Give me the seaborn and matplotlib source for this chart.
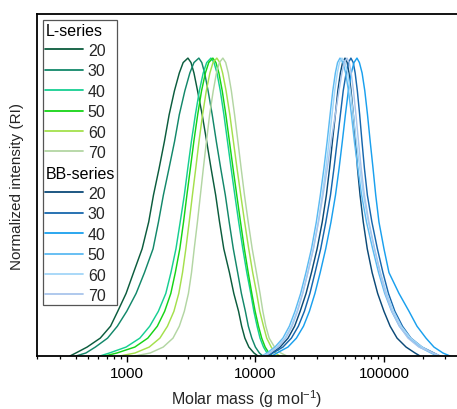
import matplotlib
matplotlib.use("Agg")
import matplotlib.pyplot as plt
import matplotlib.ticker as mticker
from matplotlib.lines import Line2D
from matplotlib.legend_handler import HandlerBase
import matplotlib.text as mtext
import seaborn as sns
import pandas as pd

# ---------------- data ----------------
# normalized intensity levels (left flank, peak, right flank)
I_levels = [0, .01, .03, .06, .10, .15, .21, .28, .36, .45, .54, .63, .72, .81, .89, .95, .985, 1,
            .985, .95, .89, .81, .72, .63, .54, .45, .36, .28, .21, .15, .10, .06, .03, .01, 0]

# log10 of molar mass (g/mol) at each intensity level
L20_logM = [2.557, 2.603, 2.691, 2.793, 2.873, 2.929, 2.994, 3.052, 3.119, 3.170, 3.207, 3.251, 3.292, 3.329, 3.370, 3.408, 3.438, 3.475,
            3.499, 3.522, 3.550, 3.586, 3.621, 3.655, 3.691, 3.721, 3.754, 3.798, 3.832, 3.869, 3.893, 3.918, 3.949, 3.989, 4.020]
L30_logM = [2.603, 2.681, 2.755, 2.850, 2.926, 2.999, 3.072, 3.137, 3.204, 3.246, 3.284, 3.328, 3.371, 3.408, 3.451, 3.490, 3.522, 3.560,
            3.583, 3.605, 3.632, 3.664, 3.696, 3.730, 3.766, 3.796, 3.828, 3.862, 3.891, 3.922, 3.945, 3.972, 4.000, 4.031, 4.058]
L40_logM = [2.790, 2.864, 2.994, 3.101, 3.178, 3.245, 3.303, 3.343, 3.382, 3.415, 3.447, 3.474, 3.502, 3.533, 3.564, 3.594, 3.621, 3.654,
            3.678, 3.701, 3.727, 3.755, 3.783, 3.811, 3.840, 3.870, 3.902, 3.933, 3.964, 3.988, 4.013, 4.036, 4.063, 4.090, 4.113]
L50_logM = [2.829, 2.922, 3.062, 3.163, 3.237, 3.294, 3.342, 3.377, 3.412, 3.441, 3.467, 3.494, 3.521, 3.551, 3.581, 3.611, 3.637, 3.669,
            3.693, 3.716, 3.742, 3.770, 3.798, 3.826, 3.855, 3.884, 3.914, 3.944, 3.972, 3.998, 4.024, 4.049, 4.076, 4.105, 4.136]
L60_logM = [2.945, 3.063, 3.174, 3.257, 3.316, 3.366, 3.404, 3.433, 3.459, 3.485, 3.510, 3.536, 3.561, 3.589, 3.618, 3.646, 3.670, 3.700,
            3.723, 3.745, 3.772, 3.801, 3.829, 3.857, 3.886, 3.916, 3.948, 3.979, 4.010, 4.034, 4.063, 4.088, 4.123, 4.155, 4.190]
L70_logM = [3.062, 3.181, 3.283, 3.359, 3.408, 3.447, 3.479, 3.503, 3.524, 3.549, 3.572, 3.595, 3.619, 3.644, 3.672, 3.697, 3.720, 3.747,
            3.769, 3.789, 3.813, 3.838, 3.864, 3.889, 3.915, 3.944, 3.975, 4.008, 4.036, 4.058, 4.081, 4.107, 4.149, 4.198, 4.245]

BB20_logM = [4.082, 4.125, 4.192, 4.254, 4.305, 4.348, 4.394, 4.436, 4.480, 4.520, 4.552, 4.577, 4.599, 4.622, 4.641, 4.661, 4.678, 4.697,
             4.714, 4.728, 4.744, 4.762, 4.779, 4.794, 4.814, 4.839, 4.870, 4.908, 4.951, 5.000, 5.048, 5.102, 5.172, 5.242, 5.281]
BB30_logM = [4.097, 4.136, 4.214, 4.280, 4.334, 4.381, 4.424, 4.464, 4.508, 4.548, 4.584, 4.611, 4.636, 4.661, 4.683, 4.706, 4.724, 4.743,
             4.761, 4.776, 4.793, 4.811, 4.829, 4.848, 4.871, 4.906, 4.949, 4.992, 5.035, 5.085, 5.144, 5.210, 5.296, 5.389, 5.436]
BB40_logM = [4.129, 4.167, 4.253, 4.319, 4.374, 4.420, 4.463, 4.504, 4.547, 4.588, 4.623, 4.651, 4.676, 4.700, 4.723, 4.746, 4.767, 4.790,
             4.809, 4.830, 4.851, 4.872, 4.893, 4.915, 4.936, 4.961, 5.000, 5.039, 5.117, 5.195, 5.257, 5.327, 5.389, 5.459, 5.514]
BB50_logM = [4.051, 4.090, 4.152, 4.214, 4.264, 4.308, 4.352, 4.393, 4.436, 4.474, 4.505, 4.533, 4.558, 4.581, 4.602, 4.622, 4.639, 4.658,
             4.681, 4.702, 4.724, 4.747, 4.770, 4.797, 4.826, 4.864, 4.912, 4.958, 5.006, 5.060, 5.120, 5.193, 5.277, 5.366, 5.413]
BB60_logM = [4.058, 4.105, 4.167, 4.229, 4.279, 4.323, 4.367, 4.408, 4.451, 4.489, 4.520, 4.548, 4.573, 4.596, 4.617, 4.637, 4.654, 4.673,
             4.696, 4.717, 4.739, 4.762, 4.785, 4.812, 4.841, 4.879, 4.927, 4.973, 5.021, 5.075, 5.135, 5.208, 5.296, 5.381, 5.436]
BB70_logM = [4.074, 4.113, 4.176, 4.237, 4.286, 4.328, 4.368, 4.408, 4.451, 4.491, 4.526, 4.559, 4.589, 4.621, 4.650, 4.673, 4.692, 4.712,
             4.730, 4.745, 4.763, 4.782, 4.802, 4.823, 4.848, 4.883, 4.926, 4.969, 5.012, 5.062, 5.121, 5.187, 5.272, 5.381, 5.436]

series_L = ["20", "30", "40", "50", "60", "70"]
series_BB = ["20", "30", "40", "50", "60", "70"]
colors_L = ["#0b5c3d", "#13886a", "#17cf92", "#16d416", "#a4e04c", "#b3d6a3"]
colors_BB = ["#0c4a78", "#1767ad", "#1aa0ee", "#5cbaf2", "#a2d6f8", "#a9c5ec"]

x_ticks = [1000, 10000, 100000]
x_tick_labels = ["1000", "10000", "100000"]

curves = [
    ("L20", L20_logM), ("L30", L30_logM), ("L40", L40_logM),
    ("L50", L50_logM), ("L60", L60_logM), ("L70", L70_logM),
    ("BB20", BB20_logM), ("BB30", BB30_logM), ("BB40", BB40_logM),
    ("BB50", BB50_logM), ("BB60", BB60_logM), ("BB70", BB70_logM),
]

rows = []
for name, lm in curves:
    for lg, v in zip(lm, I_levels):
        rows.append({"curve": name, "M": 10 ** lg, "I": v})
df = pd.DataFrame(rows)

palette = {}
for s, c in zip(series_L, colors_L):
    palette["L" + s] = c
for s, c in zip(series_BB, colors_BB):
    palette["BB" + s] = c

# ---------------- style ----------------
sns.set_theme(style="ticks")
plt.rcParams["font.family"] = ["Liberation Sans", "DejaVu Sans"]
plt.rcParams["mathtext.fontset"] = "custom"
plt.rcParams["mathtext.rm"] = "Liberation Sans"
plt.rcParams["mathtext.it"] = "Liberation Sans:italic"
FS = 11
FS_LEG = 11.5

fig = plt.figure(figsize=(4.57, 4.10), dpi=100)
W, H = 457, 410
ax = fig.add_axes([37 / W, 1 - 357 / H, 420 / W, (357 - 15) / H])

sns.lineplot(data=df, x="M", y="I", hue="curve", palette=palette, sort=False,
             estimator=None, units="curve", legend=False, ax=ax, linewidth=1.05)

ax.set_xscale("log")
ax.set_xlim(200, 370000)
ax.set_ylim(0, 1.148)

ax.set_xticks(x_ticks)
ax.set_xticklabels(x_tick_labels, fontsize=FS)
ax.xaxis.set_minor_locator(mticker.LogLocator(base=10, subs=range(2, 10), numticks=20))
ax.xaxis.set_minor_formatter(mticker.NullFormatter())
ax.tick_params(axis="x", which="major", direction="out", length=4, width=1.0, pad=3.5, colors="black")
ax.tick_params(axis="x", which="minor", direction="out", length=2.5, width=0.9, colors="black")
ax.set_yticks([])

for side in ["left", "bottom", "top"]:
    ax.spines[side].set_visible(True)
    ax.spines[side].set_linewidth(1.3)
    ax.spines[side].set_color("black")
ax.spines["right"].set_visible(False)

ax.set_xlabel("Molar mass (g mol$^{-1}$)", fontsize=11.5, labelpad=5)
ax.set_ylabel("Normalized intensity (RI)", fontsize=FS, labelpad=9)


# ---------------- legend ----------------
class Heading:
    def __init__(self, text):
        self.text = text


class HeadingHandler(HandlerBase):
    def create_artists(self, legend, orig_handle, xdescent, ydescent, width,
                       height, fontsize, trans):
        t = mtext.Text(x=-xdescent, y=-ydescent + height / 2 - 1,
                       text=orig_handle.text, va="center", ha="left",
                       fontsize=fontsize, color="black", transform=trans,
                       family=["Liberation Sans", "DejaVu Sans"])
        return [t]


handles, labels = [], []
handles.append(Heading("L-series")); labels.append("      ")
for s, c in zip(series_L, colors_L):
    handles.append(Line2D([], [], color=c, lw=1.3)); labels.append(s)
handles.append(Heading("BB-series")); labels.append("      ")
for s, c in zip(series_BB, colors_BB):
    handles.append(Line2D([], [], color=c, lw=1.3)); labels.append(s)

leg = ax.legend(handles, labels, handler_map={Heading: HeadingHandler()},
                loc="upper left", bbox_to_anchor=(0, 1), fontsize=FS_LEG,
                frameon=True, fancybox=False, edgecolor="#555555",
                framealpha=1, borderaxespad=0.38, borderpad=0.15,
                handlelength=2.35, handletextpad=0.3, labelspacing=0.34)
leg.get_frame().set_linewidth(0.9)

fig.savefig("out.png", dpi=100)
